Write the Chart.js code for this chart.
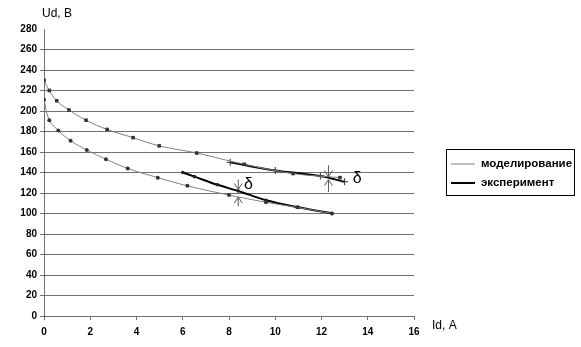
<!DOCTYPE html>
<html>
<head>
<meta charset="utf-8">
<script src="https://cdn.jsdelivr.net/npm/chart.js@4.4.0/dist/chart.umd.min.js"></script>
<style>
  html, body { margin: 0; padding: 0; background: #fff; }
  #wrap { width: 581px; height: 347px; }
</style>
</head>
<body>
<div id="wrap"><canvas id="chart" width="581" height="347"></canvas></div>
<script>
// values
const xTicks = [0, 2, 4, 6, 8, 10, 12, 14, 16];
const yTicks = [0, 20, 40, 60, 80, 100, 120, 140, 160, 180, 200, 220, 240, 260, 280];

const simUpperX = [0, 0.23, 0.55, 1.08, 1.82, 2.73, 3.85, 4.98, 6.6, 8.66, 10.77, 12.8];
const simUpperY = [230, 220, 210, 201, 191, 182, 174, 166, 159, 148, 139, 135];

const simLowerX = [0, 0.23, 0.62, 1.15, 1.85, 2.68, 3.62, 4.92, 6.2, 8.0, 9.6, 10.95, 12.45];
const simLowerY = [211, 191, 181, 171, 162, 153, 144, 135, 127, 118, 111, 106, 100];

const expUpperX = [8.05, 10.0, 11.95, 13.0];
const expUpperY = [150, 142, 136.5, 131];

const expLowerX = [6.0, 6.5, 7.5, 8.4, 9.6, 11.0, 12.45];
const expLowerY = [140, 136, 128, 122, 113, 106, 100];

const legendLabels = ['моделирование', 'эксперимент'];

// δ markers: arrow position and the two values each arrow points at
const deltaX = [8.4, 12.3];
const deltaTop = [133, 147];
const deltaTopTip = [123.5, 136];
const deltaBottom = [107, 121];
const deltaBottomTip = [116, 133];
const deltaLabelX = [8.65, 13.35];
const deltaLabelY = [128, 134];

const pts = (xs, ys) => xs.map((x, i) => ({ x: x, y: ys[i] }));

const FONT = "'Liberation Sans', Arial, sans-serif";
const GRID = '#707070';

const extras = {
  id: 'extras',
  afterDraw(chart) {
    const ctx = chart.ctx;
    const xs = chart.scales.x, ys = chart.scales.y;
    ctx.save();

    // axis titles
    ctx.fillStyle = '#000';
    ctx.font = '12px ' + FONT;
    ctx.textBaseline = 'middle';
    ctx.textAlign = 'left';
    ctx.fillText('Ud, B', 42, 14);
    ctx.fillText('Id, A', 432, 326);

    // arrows
    ctx.strokeStyle = '#555';
    ctx.lineWidth = 1;
    const arrow = (x, y0, y1) => {
      const px = xs.getPixelForValue(x);
      const a = ys.getPixelForValue(y0), b = ys.getPixelForValue(y1);
      const d = b > a ? -1 : 1;
      ctx.beginPath();
      ctx.moveTo(px, a); ctx.lineTo(px, b);
      ctx.moveTo(px - 4, b + d * 6); ctx.lineTo(px, b); ctx.lineTo(px + 4, b + d * 6);
      ctx.stroke();
    };
    deltaX.forEach((x, i) => {
      arrow(x, deltaTop[i], deltaTopTip[i]);
      arrow(x, deltaBottom[i], deltaBottomTip[i]);
    });

    ctx.fillStyle = '#000';
    ctx.font = '16px ' + FONT;
    ctx.textAlign = 'left';
    deltaLabelX.forEach((x, i) => {
      ctx.fillText('δ', xs.getPixelForValue(x), ys.getPixelForValue(deltaLabelY[i]));
    });

    // legend
    ctx.strokeStyle = '#000';
    ctx.lineWidth = 1;
    ctx.strokeRect(446.5, 149.5, 128, 46);
    ctx.font = 'bold 11.5px ' + FONT;
    const styles = [{ c: '#808080', w: 1 }, { c: '#000', w: 2 }];
    legendLabels.forEach((t, i) => {
      const y = 164 + i * 19;
      ctx.strokeStyle = styles[i].c;
      ctx.lineWidth = styles[i].w;
      ctx.beginPath(); ctx.moveTo(451, y); ctx.lineTo(475, y); ctx.stroke();
      ctx.fillStyle = '#000';
      ctx.fillText(t, 481, y);
    });
    ctx.restore();
  }
};

new Chart(document.getElementById('chart'), {
  type: 'scatter',
  data: {
    datasets: [
      {
        data: pts(simUpperX, simUpperY), showLine: true, tension: 0.4,
        borderColor: '#808080', borderWidth: 1,
        pointStyle: 'rect', pointRadius: 2.5, pointBackgroundColor: '#333', pointBorderColor: '#333', pointBorderWidth: 0
      },
      {
        data: pts(simLowerX, simLowerY), showLine: true, tension: 0.4,
        borderColor: '#808080', borderWidth: 1,
        pointStyle: 'circle', pointRadius: 2, pointBackgroundColor: '#333', pointBorderColor: '#333', pointBorderWidth: 0
      },
      {
        data: pts(expUpperX, expUpperY), showLine: true, tension: 0.3,
        borderColor: '#000', borderWidth: 2,
        pointStyle: 'cross', pointRadius: 3.5, pointBorderColor: '#333', pointBorderWidth: 1
      },
      {
        data: pts(expLowerX, expLowerY), showLine: true, tension: 0.3,
        borderColor: '#000', borderWidth: 2,
        pointStyle: 'circle', pointRadius: 1.8, pointBackgroundColor: '#222', pointBorderWidth: 0
      }
    ]
  },
  options: {
    responsive: false,
    animation: false,
    layout: { padding: { top: 29, right: 167, left: 0, bottom: 0 } },
    plugins: { legend: { display: false }, tooltip: { enabled: false } },
    scales: {
      x: {
        type: 'linear', min: 0, max: 16,
        afterBuildTicks: s => { s.ticks = xTicks.map(v => ({ value: v })); },
        afterFit: s => { s.height = 31; },
        grid: { drawOnChartArea: false, color: GRID, tickLength: 4 },
        border: { color: GRID },
        ticks: { color: '#000', font: { family: FONT, size: 10, weight: 'bold' }, padding: 6, maxRotation: 0 }
      },
      y: {
        type: 'linear', min: 0, max: 280,
        afterBuildTicks: s => { s.ticks = yTicks.map(v => ({ value: v })); },
        afterFit: s => { s.width = 44; },
        grid: { color: c => (c.tick && c.tick.value === 280) ? 'rgba(0,0,0,0)' : GRID, tickLength: 4 },
        border: { color: GRID },
        ticks: { color: '#000', font: { family: FONT, size: 10, weight: 'bold' }, padding: 3 }
      }
    }
  },
  plugins: [extras]
});
</script>
</body>
</html>
